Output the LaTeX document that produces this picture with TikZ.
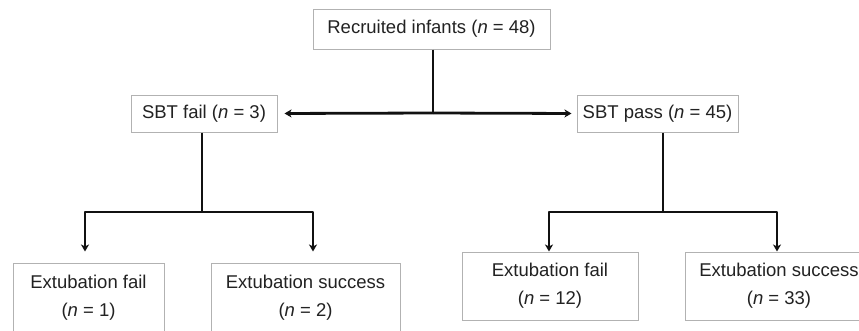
\documentclass[tikz,border=0pt]{standalone}
\usepackage{fontspec}
\setmainfont{Liberation Sans}
\usetikzlibrary{arrows.meta,shadows}
\definecolor{txt}{HTML}{222222}
\definecolor{lnc}{HTML}{111111}
\begin{document}
\begin{tikzpicture}[x=1pt,y=1pt,
  box/.style={draw=gray!60, line width=1pt, fill=white, inner sep=0pt, align=center,
    text=txt, font=\fontsize{18.5}{28}\selectfont,
    drop shadow={opacity=0.22, shadow xshift=1pt, shadow yshift=-1pt}},
  conn/.style={line width=2.8pt, lnc, line join=round},
  arr/.style={conn, -{Stealth[length=7pt,width=8pt,inset=2pt]}}]
\useasboundingbox (0,0) rectangle (859,-330);
\clip (0,0) rectangle (859,-330);
\node[box, minimum width=237, minimum height=40] (top) at (431.5,-29) {Recruited infants (\textit{n} = 48)};
\node[box, minimum width=146, minimum height=37] (sfail) at (204,-113.5) {SBT fail (\textit{n} = 3)};
\node[box, minimum width=161, minimum height=37] (spass) at (657.5,-113.5) {SBT pass (\textit{n} = 45)};
\node[box, minimum width=151, minimum height=69] (ef1) at (88.5,-297.5) {Extubation fail\\(\textit{n} = 1)};
\node[box, minimum width=189, minimum height=69] (es1) at (305.5,-297.5) {Extubation success\\(\textit{n} = 2)};
\node[box, minimum width=176, minimum height=68] (ef2) at (550,-286) {Extubation fail\\(\textit{n} = 12)};
\node[box, minimum width=188, minimum height=68] (es2) at (779,-286) {Extubation success\\(\textit{n} = 33)};
% top split
\coordinate (j0) at (433,-113);
\draw[conn] ([xshift=1.5pt]top.south) -- (j0);
\draw[arr, shorten >=7pt] (j0) -- (sfail.east);
\draw[arr, shorten >=5pt] (j0) -- (spass.west);
% left split
\coordinate (j1) at (202,-212);
\draw[conn] ([xshift=-2pt]sfail.south) -- (j1);
\draw[arr, shorten >=11pt] (j1) -| ([xshift=-3.5pt]ef1.north);
\draw[arr, shorten >=11pt] (j1) -| ([xshift=7.5pt]es1.north);
% right split
\coordinate (j2) at (663,-212);
\draw[conn] ([xshift=5.5pt]spass.south) -- (j2);
\draw[arr] (j2) -| ([xshift=-1pt]ef2.north);
\draw[arr] (j2) -| ([xshift=-2pt]es2.north);
\end{tikzpicture}
\end{document}
